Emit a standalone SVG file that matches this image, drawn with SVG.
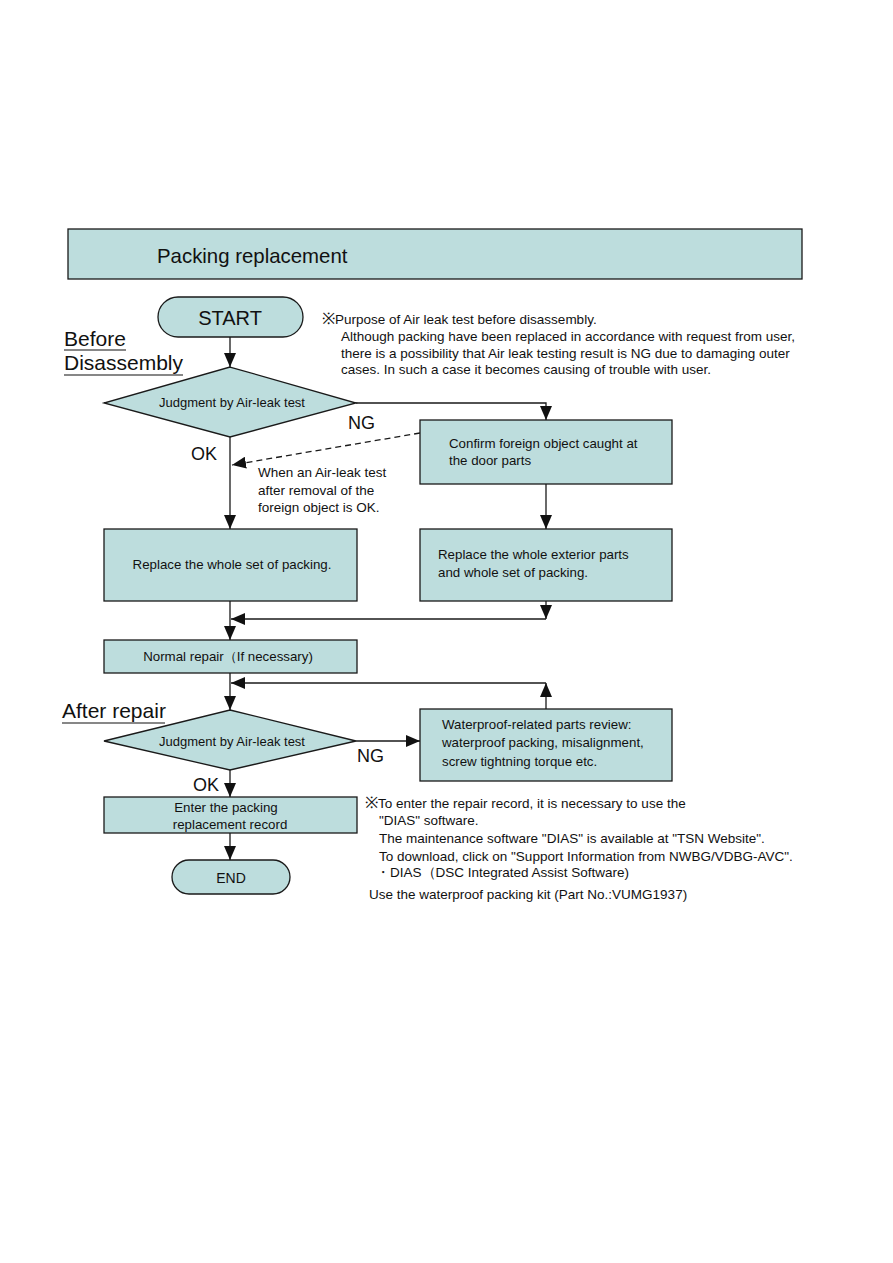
<svg xmlns="http://www.w3.org/2000/svg" width="893" height="1263" viewBox="0 0 893 1263">
<style>
.box{fill:#bddddd;stroke:#1a1a1a;stroke-width:1.3}
.ln{fill:none;stroke:#1a1a1a;stroke-width:1.3}
.dash{fill:none;stroke:#1a1a1a;stroke-width:1.3;stroke-dasharray:6,4}
text{font-family:"Liberation Sans",Arial,sans-serif;fill:#111}
.t13{font-size:13.5px}
.tb{font-size:13.3px}
.t12{font-size:13px}
.big{font-size:21px}
.lab{font-size:18px}
.c{text-anchor:middle}
.ul{fill:none;stroke:#111;stroke-width:1.2}
.km{font-size:16px}
</style>
<defs>
<marker id="ahb" viewBox="0 0 14 12" refX="14" refY="6" markerWidth="14" markerHeight="12" markerUnits="userSpaceOnUse" orient="auto">
<path d="M0,0 L14,6 L0,12 Z" fill="#111"/>
</marker>
</defs>
<rect width="893" height="1263" fill="#ffffff"/>

<g id="header">
<rect x="68" y="229" width="734" height="50" class="box"/>
<text x="157" y="263" style="font-size:20.4px">Packing replacement</text>
</g>

<g id="labels">
<text x="64" y="346" class="big">Before</text>
<line x1="64" y1="350" x2="126" y2="350" class="ul"/>
<text x="64" y="370" class="big">Disassembly</text>
<line x1="64" y1="375" x2="183" y2="375" class="ul"/>
<text x="62" y="718" class="big">After repair</text>
<line x1="62" y1="723" x2="165" y2="723" class="ul"/>
</g>

<g id="start">
<rect x="158" y="297" width="145" height="40" rx="20" class="box"/>
<text x="230" y="325" class="c" style="font-size:20px">START</text>
</g>

<g id="note1">
<text x="322" y="324" class="t13"><tspan class="km">※</tspan>Purpose of Air leak test before disassembly.</text>
<text x="341" y="341" class="t13">Although packing have been replaced in accordance with request from user,</text>
<text x="341" y="358" class="t13">there is a possibility that Air leak testing result is NG due to damaging outer</text>
<text x="341" y="374" class="t13">cases. In such a case it becomes causing of trouble with user.</text>
</g>

<g id="judge1">
<polygon points="230,367 356,403 230,437 104,403" class="box"/>
<text x="232" y="407" class="c t12">Judgment by Air-leak test</text>
</g>

<g id="confirm">
<rect x="420" y="420" width="252" height="64" class="box"/>
<text x="449" y="448" class="tb">Confirm foreign object caught at</text>
<text x="449" y="465" class="tb">the door parts</text>
</g>

<g id="replaceSet">
<rect x="104" y="529" width="253" height="72" class="box"/>
<text x="232" y="569" class="c tb">Replace the whole set of packing.</text>
</g>

<g id="replaceExterior">
<rect x="420" y="529" width="252" height="72" class="box"/>
<text x="438" y="559" class="tb">Replace the whole exterior parts</text>
<text x="438" y="577" class="tb">and whole set of packing.</text>
</g>

<g id="normalRepair">
<rect x="104" y="640" width="253" height="33" class="box"/>
<text x="228" y="661" class="c tb">Normal repair（If necessary)</text>
</g>

<g id="judge2">
<polygon points="230,710 356,741 230,770 104,741" class="box"/>
<text x="232" y="746" class="c t12">Judgment by Air-leak test</text>
</g>

<g id="waterproof">
<rect x="420" y="709" width="252" height="72" class="box"/>
<text x="442" y="729" class="tb">Waterproof-related parts review:</text>
<text x="442" y="747" class="tb">waterproof packing, misalignment,</text>
<text x="442" y="766" class="tb">screw tightning torque etc.</text>
</g>

<g id="enterRecord">
<rect x="104" y="797" width="253" height="36" class="box"/>
<text x="226" y="812" class="c tb">Enter the packing</text>
<text x="230" y="829" class="c tb">replacement record</text>
</g>

<g id="end">
<rect x="172" y="860" width="118" height="34" rx="17" class="box"/>
<text x="231" y="883" class="c" style="font-size:14px">END</text>
</g>

<g id="note2">
<text x="365" y="808" class="t13"><tspan class="km">※</tspan>To enter the repair record, it is necessary to use the</text>
<text x="379" y="825" class="t13">"DIAS" software.</text>
<text x="379" y="843" class="t13">The maintenance software "DIAS" is available at "TSN Website".</text>
<text x="379" y="861" class="t13">To download, click on "Support Information from NWBG/VDBG-AVC".</text>
<text x="376" y="877" class="t13">・DIAS（DSC Integrated Assist Software)</text>
<text x="369" y="899" class="t13">Use the waterproof packing kit (Part No.:VUMG1937)</text>
</g>

<g id="connectors">
<line x1="230" y1="337" x2="230" y2="367" class="ln" marker-end="url(#ahb)"/>
<polyline points="356,403 546,403 546,420" class="ln" marker-end="url(#ahb)"/>
<text x="348" y="429" class="lab">NG</text>
<line x1="230" y1="437" x2="230" y2="529" class="ln" marker-end="url(#ahb)"/>
<text x="191" y="460" class="lab">OK</text>
<line x1="420" y1="433" x2="232" y2="465" class="dash" marker-end="url(#ahb)"/>
<text x="258" y="477" class="t13">When an Air-leak test</text>
<text x="258" y="495" class="t13">after removal of the</text>
<text x="258" y="512" class="t13">foreign object is OK.</text>
<line x1="546" y1="484" x2="546" y2="529" class="ln" marker-end="url(#ahb)"/>
<line x1="546" y1="601" x2="546" y2="619" class="ln" marker-end="url(#ahb)"/>
<line x1="546" y1="619" x2="231" y2="619" class="ln" marker-end="url(#ahb)"/>
<line x1="230" y1="601" x2="230" y2="640" class="ln" marker-end="url(#ahb)"/>
<line x1="230" y1="673" x2="230" y2="710" class="ln" marker-end="url(#ahb)"/>
<polyline points="546,709 546,683" class="ln" marker-end="url(#ahb)"/>
<line x1="546" y1="683" x2="231" y2="683" class="ln" marker-end="url(#ahb)"/>
<line x1="356" y1="741" x2="420" y2="741" class="ln" marker-end="url(#ahb)"/>
<text x="357" y="762" class="lab">NG</text>
<line x1="230" y1="770" x2="230" y2="797" class="ln" marker-end="url(#ahb)"/>
<text x="193" y="791" class="lab">OK</text>
<line x1="230" y1="833" x2="230" y2="860" class="ln" marker-end="url(#ahb)"/>
</g>
</svg>
